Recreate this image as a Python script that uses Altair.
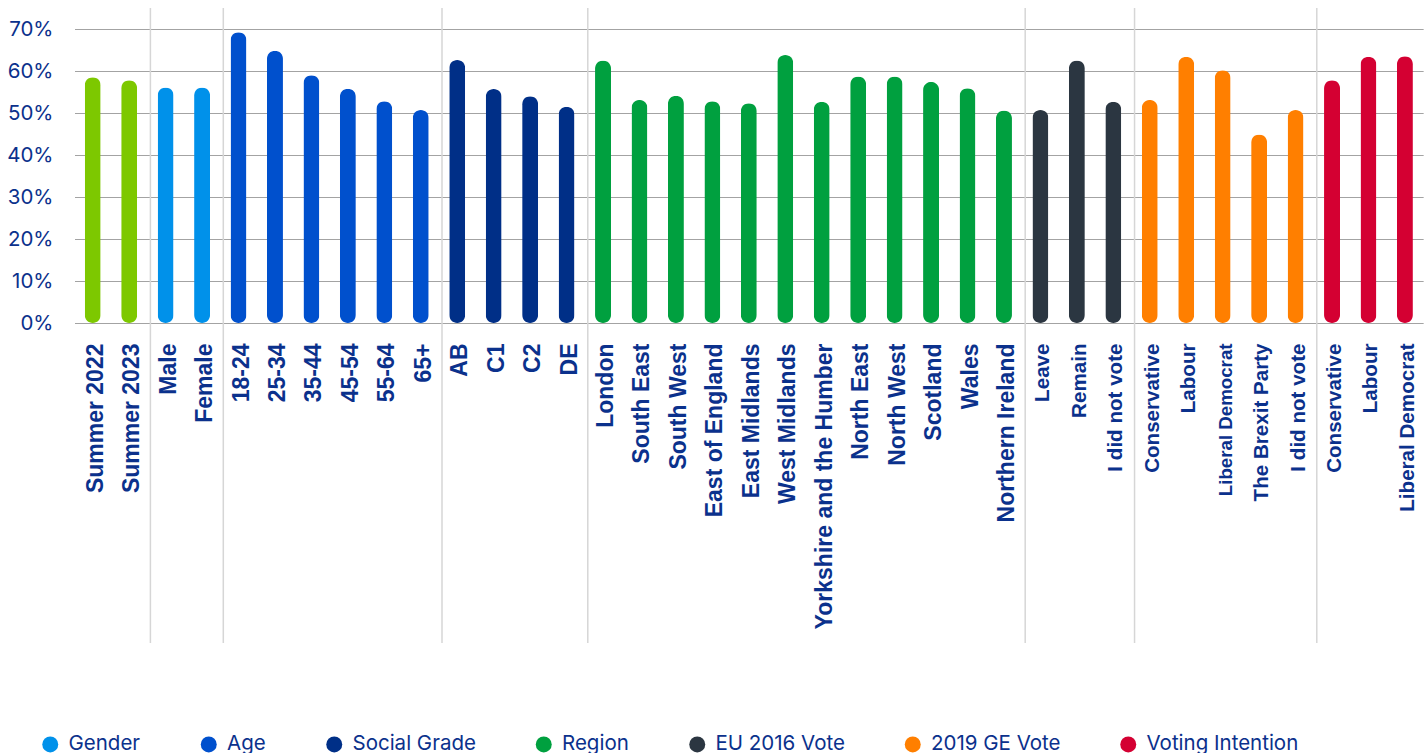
import altair as alt
import pandas as pd

# Share of respondents (%) by breakdown
groups = ["Overall", "Gender", "Age", "Social Grade", "Region",
          "EU 2016 Vote", "2019 GE Vote", "Voting Intention"]

overall_labels = ["Summer 2022", "Summer 2023"]
overall_values = [58.5, 57.8]

gender_labels = ["Male", "Female"]
gender_values = [56.1, 56.1]

age_labels = ["18-24", "25-34", "35-44", "45-54", "55-64", "65+"]
age_values = [69.2, 64.8, 59.0, 55.8, 52.8, 50.7]

grade_labels = ["AB", "C1", "C2", "DE"]
grade_values = [62.6, 55.7, 54.0, 51.5]

region_labels = ["London", "South East", "South West", "East of England",
                 "East Midlands", "West Midlands", "Yorkshire and the Humber",
                 "North East", "North West", "Scotland", "Wales",
                 "Northern Ireland"]
region_values = [62.5, 53.1, 54.1, 52.8, 52.3, 63.8, 52.7, 58.7, 58.7, 57.4,
                 55.9, 50.6]

eu_labels = ["Leave", "Remain", "I did not vote"]
eu_values = [50.7, 62.5, 52.7]

ge_labels = ["Conservative", "Labour", "Liberal Democrat", "The Brexit Party",
             "I did not vote"]
ge_values = [53.1, 63.4, 60.2, 44.9, 50.7]

vi_labels = ["Conservative", "Labour", "Liberal Democrat"]
vi_values = [57.8, 63.4, 63.5]

colors = ["#7DC800", "#0091EA", "#0050CD", "#002F87", "#00A03F",
          "#2B3641", "#FF7F00", "#D40032"]

y_ticks = [0, 10, 20, 30, 40, 50, 60, 70]

text_blue = "#0B318C"

blocks = [overall_labels, gender_labels, age_labels, grade_labels,
          region_labels, eu_labels, ge_labels, vi_labels]
block_values = [overall_values, gender_values, age_values, grade_values,
                region_values, eu_values, ge_values, vi_values]

rows = []
for g, labels, vals in zip(groups, blocks, block_values):
    for lab, v in zip(labels, vals):
        rows.append({"key": f"{g}|{lab}", "group": g, "value": v})
df = pd.DataFrame(rows)
keys = list(df["key"])

# first category of every breakdown after the first one gets a divider
dividers = pd.DataFrame({"key": [f"{g}|{labels[0]}"
                                 for g, labels in zip(groups[1:], blocks[1:])]})

W, H = 1320, 315
n = len(keys)
x_scale = alt.Scale(domain=keys, range=[3.5, 3.5 + 36.45 * n],
                    paddingInner=0, paddingOuter=0)

# voting breakdowns use a slightly smaller label size
voting_test = ("indexof(datum.value, 'EU 2016 Vote|') == 0 || "
               "indexof(datum.value, '2019 GE Vote|') == 0 || "
               "indexof(datum.value, 'Voting Intention|') == 0")
label_size = {
    "condition": [
        {"test": "datum.value == '2019 GE Vote|Liberal Democrat'", "value": 18.7},
        {"test": voting_test, "value": 20.6},
    ],
    "value": 23,
}

x_axis = alt.Axis(
    title=None, domain=False, ticks=False, grid=False,
    labelAngle=-90, labelPadding=20, labelLimit=400, labelOffset=3,
    labelExpr="split(datum.value, '|')[1]",
    labelFont="Liberation Sans", labelFontWeight="bold",
    labelFontSize=label_size,
    labelColor=text_blue,
)

rules = alt.Chart(dividers).mark_rule(color="#d6d6d6", strokeWidth=1.5, xOffset=3).encode(
    x=alt.X("key:N", bandPosition=0, scale=x_scale, axis=x_axis),
    y=alt.value(0),
    y2=alt.value(635),
)

bars = alt.Chart(df).mark_bar(size=16, cornerRadius=8).encode(
    x=alt.X("key:N", scale=x_scale, axis=x_axis),
    y=alt.Y("value:Q", scale=alt.Scale(domain=[0, 75], nice=False),
            axis=alt.Axis(title=None, values=y_ticks, domain=False, ticks=False,
                          tickSize=0, labelPadding=18,
                          labelExpr="datum.value + '%'",
                          labelFont="Inter", labelFontSize=20.5,
                          labelColor=text_blue,
                          grid=True, gridColor="#a3a3a3", gridWidth=1)),
    color=alt.Color("group:N",
                    scale=alt.Scale(domain=groups, range=colors),
                    legend=alt.Legend(
                        title=None, values=groups[1:], orient="none",
                        direction="horizontal", columns=7,
                        legendX=-31, legendY=726,
                        symbolType="circle", symbolSize=256,
                        symbolStrokeWidth=0, symbolOpacity=1,
                        labelFont="Inter", labelFontSize=20.5,
                        labelColor=text_blue, labelOffset=8,
                        columnPadding=57.5, padding=0)),
)

chart = alt.layer(rules, bars).properties(
    width=W, height=H, background="white",
    autosize=alt.AutoSizeParams(type="none"),
    padding={"left": 71, "top": 8, "right": 36, "bottom": 430},
).configure_view(stroke=None)

chart.save("out.html", embed_options={"renderer": "svg", "actions": False})
